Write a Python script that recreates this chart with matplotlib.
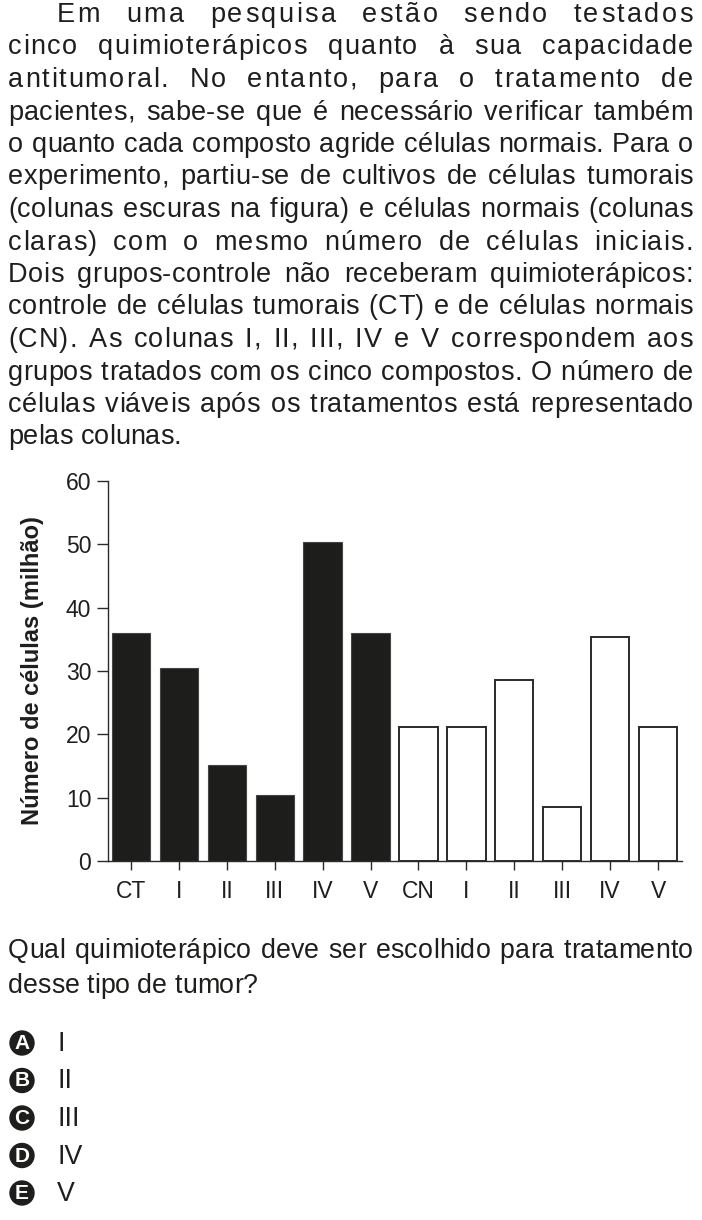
import matplotlib
matplotlib.use("Agg")
import matplotlib.pyplot as plt
from matplotlib import font_manager
from matplotlib.ft2font import FT2Font
from matplotlib.patches import Circle

try:
    from matplotlib.ft2font import LoadFlags
    SEM_HINT = LoadFlags.NO_HINTING
except ImportError:
    from matplotlib.ft2font import LOAD_NO_HINTING as SEM_HINT

# dados do grafico
categorias = ["CT", "I", "II", "III", "IV", "V", "CN", "I", "II", "III", "IV", "V"]
tumorais = [36, 30.4, 15.2, 10.4, 50.3, 36]
normais = [21.2, 21.2, 28.6, 8.5, 35.3, 21.2]
ticks_y = [0, 10, 20, 30, 40, 50, 60]

paragrafo = [
    "Em uma pesquisa estão sendo testados",
    "cinco quimioterápicos quanto à sua capacidade",
    "antitumoral. No entanto, para o tratamento de",
    "pacientes, sabe-se que é necessário verificar também",
    "o quanto cada composto agride células normais. Para o",
    "experimento, partiu-se de cultivos de células tumorais",
    "(colunas escuras na figura) e células normais (colunas",
    "claras) com o mesmo número de células iniciais.",
    "Dois grupos-controle não receberam quimioterápicos:",
    "controle de células tumorais (CT) e de células normais",
    "(CN). As colunas I, II, III, IV e V correspondem aos",
    "grupos tratados com os cinco compostos. O número de",
    "células viáveis após os tratamentos está representado",
    "pelas colunas.",
]
pergunta = [
    "Qual quimioterápico deve ser escolhido para tratamento",
    "desse tipo de tumor?",
]
letras = ["A", "B", "C", "D", "E"]
alternativas = ["I", "II", "III", "IV", "V"]

COR = "#1e1e1c"
W, H = 702, 1220

fig = plt.figure(figsize=(W / 100, H / 100), dpi=100)
pagina = fig.add_axes([0, 0, 1, 1])
pagina.set_xlim(0, W)
pagina.set_ylim(H, 0)
pagina.axis("off")

FONTE = font_manager.findfont(font_manager.FontProperties(family="Liberation Sans"))
ft = FT2Font(FONTE)


def avancos(texto, tam):
    ft.set_size(tam, 100)
    return [ft.load_char(ord(c), flags=SEM_HINT).linearHoriAdvance / 65536 for c in texto]


def escreve_linha(texto, y, x0, x1, tam, justificar=True):
    # texto justificado: parte do espaco extra vai entre letras, o resto entre palavras
    adv = avancos(texto, tam)
    espaco = avancos(" ", tam)[0]
    n_esp = max(texto.count(" "), 1)
    n_letras = max(sum(1 for a, b in zip(texto, texto[1:]) if a != " " and b != " "), 1)
    extra = (x1 - x0) - sum(adv) if justificar else 0
    ls, ws = 0, 0
    if extra > 0:
        ls = min(extra * 0.4 / n_letras, 2.5)
        ws = (extra - ls * n_letras) / n_esp
    elif extra < 0:
        ws = max(extra / n_esp, -0.4 * espaco)
        ls = (extra - ws * n_esp) / n_letras
    x = x0
    for i, (c, a) in enumerate(zip(texto, adv)):
        if c != " ":
            pagina.text(x, y, c, fontsize=tam, family="Liberation Sans",
                        color=COR, ha="left", va="baseline")
        x += a
        if c == " ":
            x += ws
        elif i + 1 < len(texto) and texto[i + 1] != " ":
            x += ls


# paragrafo de cima
for i, lin in enumerate(paragrafo):
    x0 = 57 if i == 0 else 8
    escreve_linha(lin, 22 + 32.5 * i, x0, 693, 19.5, justificar=(i < len(paragrafo) - 1))

# grafico
ax = fig.add_axes([108 / W, 1 - 861 / H, 574 / W, 380 / H])
pos = list(range(len(categorias)))
ax.bar(pos[:6], tumorais, width=0.8, color="#1d1d1b", edgecolor="#454543", linewidth=0.8, zorder=2)
ax.bar(pos[6:], normais, width=0.8, color="white", edgecolor="#2a2a2a", linewidth=1.4, zorder=2)
ax.set_xlim(-0.48, 11.5)
ax.set_ylim(0, 60)
ax.set_xticks(pos)
ax.set_xticklabels(categorias)
ax.set_yticks(ticks_y)
for lado in ["top", "right"]:
    ax.spines[lado].set_visible(False)
for lado in ["left", "bottom"]:
    ax.spines[lado].set_color("#2a2a2a")
    ax.spines[lado].set_linewidth(1.0)
    ax.spines[lado].set_zorder(3)
ax.tick_params(axis="y", direction="out", length=8, width=1.0, pad=4,
               labelsize=16.5, colors="#2a2a2a", labelcolor=COR)
ax.tick_params(axis="x", direction="out", length=6.5, width=1.0, pad=7,
               labelsize=16.5, colors="#2a2a2a", labelcolor=COR)
for t in ax.get_xticklabels() + ax.get_yticklabels():
    t.set_family("Liberation Sans")

pagina.text(33, 671, "Número de células (milhão)", rotation=90, ha="center", va="center",
            fontsize=17, fontweight="bold", family="Liberation Sans", color=COR)

# pergunta
for i, lin in enumerate(pergunta):
    escreve_linha(lin, 958 + 35 * i, 8, 693, 19.3, justificar=(i == 0))

# alternativas
for i, (letra, alt) in enumerate(zip(letras, alternativas)):
    cy = 1043 + 37.5 * i
    pagina.add_patch(Circle((22, cy), 12, color=COR, zorder=3))
    pagina.text(22, cy + 0.5, letra, ha="center", va="center", fontsize=15, fontweight="bold",
                family="Liberation Sans", color="white", zorder=4)
    pagina.text(57, cy + 8, alt, ha="left", va="baseline", fontsize=19.3,
                family="Liberation Sans", color=COR)

fig.savefig("out.png", dpi=100)
